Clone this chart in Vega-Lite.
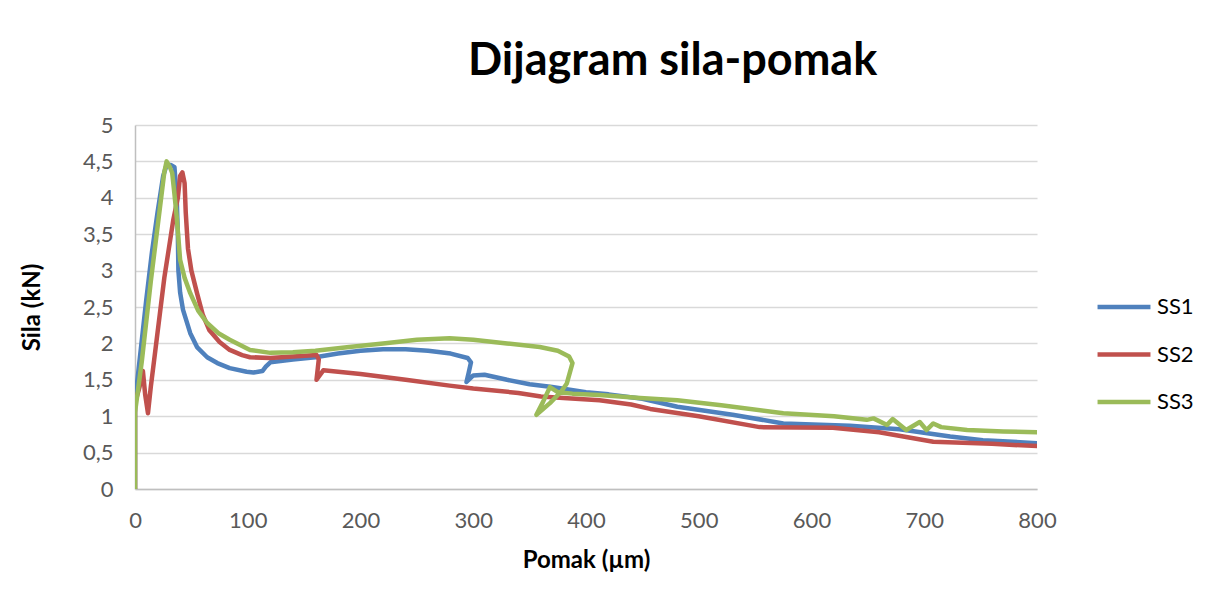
{
  "$schema": "https://vega.github.io/schema/vega-lite/v6.json",
  "width": 902,
  "height": 364,
  "autosize": {"type": "none"},
  "padding": {"left": 135, "top": 125, "right": 176, "bottom": 110},
  "background": "#ffffff",
  "title": {
    "text": "Dijagram sila-pomak",
    "anchor": "start",
    "dx": 448,
    "offset": 30,
    "font": "Lato",
    "fontSize": 45,
    "fontWeight": "bold",
    "color": "#000000"
  },
  "config": {
    "view": {"stroke": null},
    "font": "Lato"
  },
  "data": {
    "values": [
      {"s":"SS1","i":0,"x":0,"y":0},
      {"s":"SS1","i":1,"x":0,"y":1.2},
      {"s":"SS1","i":2,"x":5,"y":1.9},
      {"s":"SS1","i":3,"x":10,"y":2.6},
      {"s":"SS1","i":4,"x":15,"y":3.25},
      {"s":"SS1","i":5,"x":20,"y":3.8},
      {"s":"SS1","i":6,"x":25,"y":4.3},
      {"s":"SS1","i":7,"x":28,"y":4.45},
      {"s":"SS1","i":8,"x":32,"y":4.45},
      {"s":"SS1","i":9,"x":35,"y":4.42},
      {"s":"SS1","i":10,"x":37,"y":4.0},
      {"s":"SS1","i":11,"x":38,"y":3.5},
      {"s":"SS1","i":12,"x":38.5,"y":3.0},
      {"s":"SS1","i":13,"x":40,"y":2.7},
      {"s":"SS1","i":14,"x":42.6,"y":2.46},
      {"s":"SS1","i":15,"x":49,"y":2.14},
      {"s":"SS1","i":16,"x":55,"y":1.95},
      {"s":"SS1","i":17,"x":64,"y":1.81},
      {"s":"SS1","i":18,"x":73,"y":1.73},
      {"s":"SS1","i":19,"x":84,"y":1.66},
      {"s":"SS1","i":20,"x":99,"y":1.61},
      {"s":"SS1","i":21,"x":105,"y":1.6},
      {"s":"SS1","i":22,"x":113,"y":1.62},
      {"s":"SS1","i":23,"x":116,"y":1.68},
      {"s":"SS1","i":24,"x":120,"y":1.74},
      {"s":"SS1","i":25,"x":140,"y":1.78},
      {"s":"SS1","i":26,"x":160,"y":1.81},
      {"s":"SS1","i":27,"x":180,"y":1.86},
      {"s":"SS1","i":28,"x":200,"y":1.9},
      {"s":"SS1","i":29,"x":220,"y":1.92},
      {"s":"SS1","i":30,"x":240,"y":1.92},
      {"s":"SS1","i":31,"x":260,"y":1.9},
      {"s":"SS1","i":32,"x":280,"y":1.86},
      {"s":"SS1","i":33,"x":295,"y":1.8},
      {"s":"SS1","i":34,"x":298,"y":1.74},
      {"s":"SS1","i":35,"x":296,"y":1.6},
      {"s":"SS1","i":36,"x":294,"y":1.47},
      {"s":"SS1","i":37,"x":300,"y":1.56},
      {"s":"SS1","i":38,"x":310,"y":1.57},
      {"s":"SS1","i":39,"x":330,"y":1.5},
      {"s":"SS1","i":40,"x":350,"y":1.44},
      {"s":"SS1","i":41,"x":370,"y":1.4},
      {"s":"SS1","i":42,"x":400,"y":1.33},
      {"s":"SS1","i":43,"x":420,"y":1.3},
      {"s":"SS1","i":44,"x":450,"y":1.24},
      {"s":"SS1","i":45,"x":481,"y":1.13},
      {"s":"SS1","i":46,"x":530,"y":1.02},
      {"s":"SS1","i":47,"x":575,"y":0.9},
      {"s":"SS1","i":48,"x":634,"y":0.87},
      {"s":"SS1","i":49,"x":678,"y":0.82},
      {"s":"SS1","i":50,"x":723,"y":0.72},
      {"s":"SS1","i":51,"x":752,"y":0.67},
      {"s":"SS1","i":52,"x":800,"y":0.63},

      {"s":"SS2","i":0,"x":0,"y":0},
      {"s":"SS2","i":1,"x":0,"y":1.18},
      {"s":"SS2","i":2,"x":4,"y":1.4},
      {"s":"SS2","i":3,"x":7,"y":1.62},
      {"s":"SS2","i":4,"x":9,"y":1.3},
      {"s":"SS2","i":5,"x":11.5,"y":1.04},
      {"s":"SS2","i":6,"x":14,"y":1.4},
      {"s":"SS2","i":7,"x":18,"y":1.9},
      {"s":"SS2","i":8,"x":22,"y":2.4},
      {"s":"SS2","i":9,"x":26,"y":2.9},
      {"s":"SS2","i":10,"x":30,"y":3.3},
      {"s":"SS2","i":11,"x":34,"y":3.7},
      {"s":"SS2","i":12,"x":38,"y":4.0},
      {"s":"SS2","i":13,"x":40,"y":4.3},
      {"s":"SS2","i":14,"x":42,"y":4.35},
      {"s":"SS2","i":15,"x":44,"y":4.2},
      {"s":"SS2","i":16,"x":45,"y":3.8},
      {"s":"SS2","i":17,"x":47,"y":3.3},
      {"s":"SS2","i":18,"x":50,"y":3.0},
      {"s":"SS2","i":19,"x":55,"y":2.69},
      {"s":"SS2","i":20,"x":60,"y":2.4},
      {"s":"SS2","i":21,"x":66,"y":2.18},
      {"s":"SS2","i":22,"x":75,"y":2.02},
      {"s":"SS2","i":23,"x":84,"y":1.91},
      {"s":"SS2","i":24,"x":95,"y":1.84},
      {"s":"SS2","i":25,"x":102,"y":1.81},
      {"s":"SS2","i":26,"x":120,"y":1.8},
      {"s":"SS2","i":27,"x":140,"y":1.82},
      {"s":"SS2","i":28,"x":161,"y":1.84},
      {"s":"SS2","i":29,"x":163,"y":1.78},
      {"s":"SS2","i":30,"x":161,"y":1.5},
      {"s":"SS2","i":31,"x":167,"y":1.63},
      {"s":"SS2","i":32,"x":200,"y":1.58},
      {"s":"SS2","i":33,"x":240,"y":1.5},
      {"s":"SS2","i":34,"x":279,"y":1.42},
      {"s":"SS2","i":35,"x":300,"y":1.38},
      {"s":"SS2","i":36,"x":340,"y":1.32},
      {"s":"SS2","i":37,"x":360,"y":1.27},
      {"s":"SS2","i":38,"x":380,"y":1.25},
      {"s":"SS2","i":39,"x":412,"y":1.22},
      {"s":"SS2","i":40,"x":440,"y":1.16},
      {"s":"SS2","i":41,"x":457,"y":1.1},
      {"s":"SS2","i":42,"x":500,"y":1.0},
      {"s":"SS2","i":43,"x":554,"y":0.85},
      {"s":"SS2","i":44,"x":619,"y":0.84},
      {"s":"SS2","i":45,"x":660,"y":0.78},
      {"s":"SS2","i":46,"x":708,"y":0.65},
      {"s":"SS2","i":47,"x":760,"y":0.62},
      {"s":"SS2","i":48,"x":800,"y":0.59},

      {"s":"SS3","i":0,"x":0,"y":0},
      {"s":"SS3","i":1,"x":0,"y":1.05},
      {"s":"SS3","i":2,"x":3,"y":1.4},
      {"s":"SS3","i":3,"x":6,"y":1.75},
      {"s":"SS3","i":4,"x":10,"y":2.3},
      {"s":"SS3","i":5,"x":14,"y":2.85},
      {"s":"SS3","i":6,"x":18,"y":3.35},
      {"s":"SS3","i":7,"x":22,"y":3.85},
      {"s":"SS3","i":8,"x":26,"y":4.35},
      {"s":"SS3","i":9,"x":28,"y":4.5},
      {"s":"SS3","i":10,"x":31,"y":4.42},
      {"s":"SS3","i":11,"x":33,"y":4.34},
      {"s":"SS3","i":12,"x":35,"y":4.05},
      {"s":"SS3","i":13,"x":37,"y":3.74},
      {"s":"SS3","i":14,"x":40,"y":3.15},
      {"s":"SS3","i":15,"x":44,"y":2.9},
      {"s":"SS3","i":16,"x":49,"y":2.69},
      {"s":"SS3","i":17,"x":56,"y":2.45},
      {"s":"SS3","i":18,"x":64,"y":2.28},
      {"s":"SS3","i":19,"x":74,"y":2.14},
      {"s":"SS3","i":20,"x":84,"y":2.05},
      {"s":"SS3","i":21,"x":102,"y":1.91},
      {"s":"SS3","i":22,"x":120,"y":1.87},
      {"s":"SS3","i":23,"x":140,"y":1.88},
      {"s":"SS3","i":24,"x":160,"y":1.9},
      {"s":"SS3","i":25,"x":190,"y":1.95},
      {"s":"SS3","i":26,"x":220,"y":2.0},
      {"s":"SS3","i":27,"x":250,"y":2.05},
      {"s":"SS3","i":28,"x":279,"y":2.07},
      {"s":"SS3","i":29,"x":300,"y":2.05},
      {"s":"SS3","i":30,"x":330,"y":2.0},
      {"s":"SS3","i":31,"x":359,"y":1.95},
      {"s":"SS3","i":32,"x":375,"y":1.9},
      {"s":"SS3","i":33,"x":385,"y":1.82},
      {"s":"SS3","i":34,"x":388,"y":1.73},
      {"s":"SS3","i":35,"x":383,"y":1.45},
      {"s":"SS3","i":36,"x":378,"y":1.34},
      {"s":"SS3","i":37,"x":368,"y":1.18},
      {"s":"SS3","i":38,"x":356,"y":1.02},
      {"s":"SS3","i":39,"x":362,"y":1.2},
      {"s":"SS3","i":40,"x":368,"y":1.4},
      {"s":"SS3","i":41,"x":375,"y":1.33},
      {"s":"SS3","i":42,"x":388,"y":1.31},
      {"s":"SS3","i":43,"x":412,"y":1.29},
      {"s":"SS3","i":44,"x":448,"y":1.25},
      {"s":"SS3","i":45,"x":481,"y":1.22},
      {"s":"SS3","i":46,"x":520,"y":1.15},
      {"s":"SS3","i":47,"x":575,"y":1.04},
      {"s":"SS3","i":48,"x":620,"y":1.0},
      {"s":"SS3","i":49,"x":649,"y":0.95},
      {"s":"SS3","i":50,"x":655,"y":0.97},
      {"s":"SS3","i":51,"x":667,"y":0.88},
      {"s":"SS3","i":52,"x":672,"y":0.96},
      {"s":"SS3","i":53,"x":684,"y":0.81},
      {"s":"SS3","i":54,"x":696,"y":0.92},
      {"s":"SS3","i":55,"x":702,"y":0.81},
      {"s":"SS3","i":56,"x":708,"y":0.9},
      {"s":"SS3","i":57,"x":715,"y":0.85},
      {"s":"SS3","i":58,"x":738,"y":0.81},
      {"s":"SS3","i":59,"x":770,"y":0.79},
      {"s":"SS3","i":60,"x":800,"y":0.78}
    ]
  },
  "mark": {"type": "line", "strokeWidth": 4.5, "strokeJoin": "round", "strokeCap": "round", "clip": true},
  "encoding": {
    "x": {
      "field": "x",
      "type": "quantitative",
      "scale": {"domain": [0, 800], "nice": false, "zero": false},
      "axis": {
        "values": [0, 100, 200, 300, 400, 500, 600, 700, 800],
        "title": "Pomak (µm)",
        "titleFont": "Lato",
        "titleFontSize": 24,
        "titleFontWeight": "bold",
        "titleColor": "#000000",
        "titleX": 451,
        "titleY": 71,
        "titleAlign": "center",
        "titleBaseline": "middle",
        "labelFont": "Lato",
        "labelFontSize": 22,
        "labelColor": "#595959",
        "labelBaseline": "middle",
        "labelPadding": 31,
        "ticks": false,
        "tickSize": 0,
        "grid": false,
        "domainColor": "#bfbfbf",
        "domainWidth": 1.5,
        "labelFlush": false,
        "labelOverlap": false
      }
    },
    "y": {
      "field": "y",
      "type": "quantitative",
      "scale": {"domain": [0, 5], "nice": false, "zero": false},
      "axis": {
        "values": [0, 0.5, 1, 1.5, 2, 2.5, 3, 3.5, 4, 4.5, 5],
        "labelExpr": "replace(format(datum.value, '~r'), '.', ',')",
        "title": "Sila (kN)",
        "titleFont": "Lato",
        "titleFontSize": 24,
        "titleFontWeight": "bold",
        "titleColor": "#000000",
        "titleX": -103,
        "titleY": 182,
        "titleAngle": -90,
        "titleAlign": "center",
        "titleBaseline": "middle",
        "labelFont": "Lato",
        "labelFontSize": 22,
        "labelColor": "#595959",
        "labelPadding": 22,
        "labelBaseline": "middle",
        "ticks": false,
        "tickSize": 0,
        "grid": true,
        "gridColor": "#d9d9d9",
        "gridWidth": 1.5,
        "domainColor": "#bfbfbf",
        "domainWidth": 1.5,
        "labelFlush": false,
        "labelOverlap": false
      }
    },
    "color": {
      "field": "s",
      "type": "nominal",
      "scale": {"domain": ["SS1", "SS2", "SS3"], "range": ["#4f81bd", "#c0504d", "#9bbb59"]},
      "legend": {
        "title": null,
        "orient": "none",
        "legendX": 960,
        "legendY": 153,
        "symbolType": "stroke",
        "symbolSize": 2800,
        "symbolStrokeWidth": 4.5,
        "labelFont": "Lato",
        "labelFontSize": 22,
        "labelColor": "#000000",
        "labelOffset": 4,
        "rowPadding": 7.5,
        "padding": 0
      }
    },
    "detail": {"field": "s"},
    "order": {"field": "i", "type": "quantitative"}
  }
}
